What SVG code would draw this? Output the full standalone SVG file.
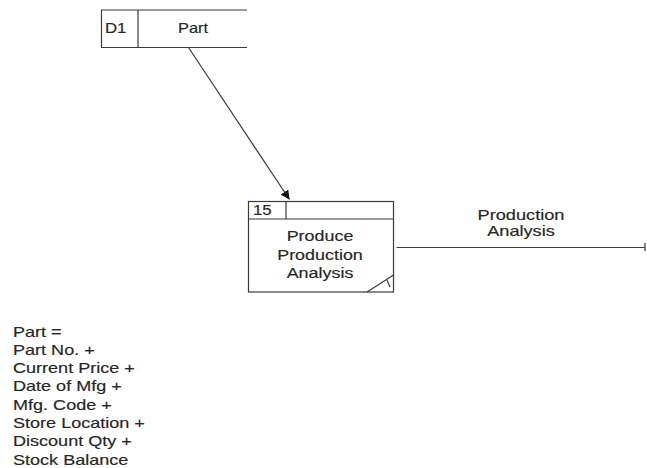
<svg xmlns="http://www.w3.org/2000/svg" width="647" height="468" viewBox="0 0 647 468">
  <defs>
    <style>
      .ln { fill: none; stroke: #3a3a3a; stroke-width: 1.2; }
      .tx { font-family: "Liberation Sans", Arial, sans-serif; font-size: 14px; fill: #262626; stroke: #262626; stroke-width: 0.15; }
      .mid { text-anchor: middle; }
    </style>
    <marker id="arrowHead" viewBox="0 0 10 10" refX="10" refY="5" markerWidth="9" markerHeight="9" markerUnits="userSpaceOnUse" orient="auto">
      <path d="M0,0 L10,5 L0,10 Z" fill="#111"/>
    </marker>
  </defs>
  <rect width="647" height="468" fill="#fff"/>

  <!-- Data store D1 -->
  <g id="store-d1">
    <path class="ln" d="M247,10 H101.5 V47.5 H247"/>
    <line class="ln" x1="138" y1="10" x2="138" y2="47.5" stroke-width="2"/>
    <g transform="translate(105,33) scale(1.2,1)"><text class="tx" x="0" y="0">D1</text></g>
    <g transform="translate(193,33) scale(1.17,1)"><text class="tx mid" x="0" y="0">Part</text></g>
  </g>

  <!-- Process 15 -->
  <g id="process-15">
    <rect class="ln" x="248.5" y="201.5" width="145" height="90.5"/>
    <line class="ln" x1="248.5" y1="219" x2="393.5" y2="219"/>
    <line class="ln" x1="286" y1="201.5" x2="286" y2="219"/>
    <g transform="translate(253,215) scale(1.2,1)"><text class="tx" x="0" y="0">15</text></g>
    <g transform="translate(320,241) scale(1.28,1)"><text class="tx mid" x="0" y="0">Produce</text></g>
    <g transform="translate(320,259.5) scale(1.28,1)"><text class="tx mid" x="0" y="0">Production</text></g>
    <g transform="translate(320,277.5) scale(1.28,1)"><text class="tx mid" x="0" y="0">Analysis</text></g>
    <line class="ln" x1="367" y1="292" x2="393.5" y2="275"/>
    <line class="ln" x1="387" y1="280" x2="390" y2="287" stroke-width="1"/>
  </g>

  <!-- Connectors -->
  <g id="connectors">
    <line class="ln" x1="188.5" y1="47.5" x2="289.5" y2="199.5" marker-end="url(#arrowHead)"/>
    <line class="ln" x1="396.5" y1="247.5" x2="645" y2="247.5"/>
    <line class="ln" x1="645" y1="243" x2="645" y2="251"/>
    <g transform="translate(521,220) scale(1.3,1)"><text class="tx mid" x="0" y="0">Production</text></g>
    <g transform="translate(521,236) scale(1.3,1)"><text class="tx mid" x="0" y="0">Analysis</text></g>
  </g>

  <!-- Data dictionary entry -->
  <g id="part-definition" transform="translate(13,0) scale(1.29,1)">
    <text class="tx" x="0" y="337">Part =</text>
    <text class="tx" x="0" y="355">Part No. +</text>
    <text class="tx" x="0" y="373">Current Price +</text>
    <text class="tx" x="0" y="391">Date of Mfg +</text>
    <text class="tx" x="0" y="410">Mfg. Code +</text>
    <text class="tx" x="0" y="428">Store Location +</text>
    <text class="tx" x="0" y="446">Discount Qty +</text>
    <text class="tx" x="0" y="465">Stock Balance</text>
  </g>
</svg>
